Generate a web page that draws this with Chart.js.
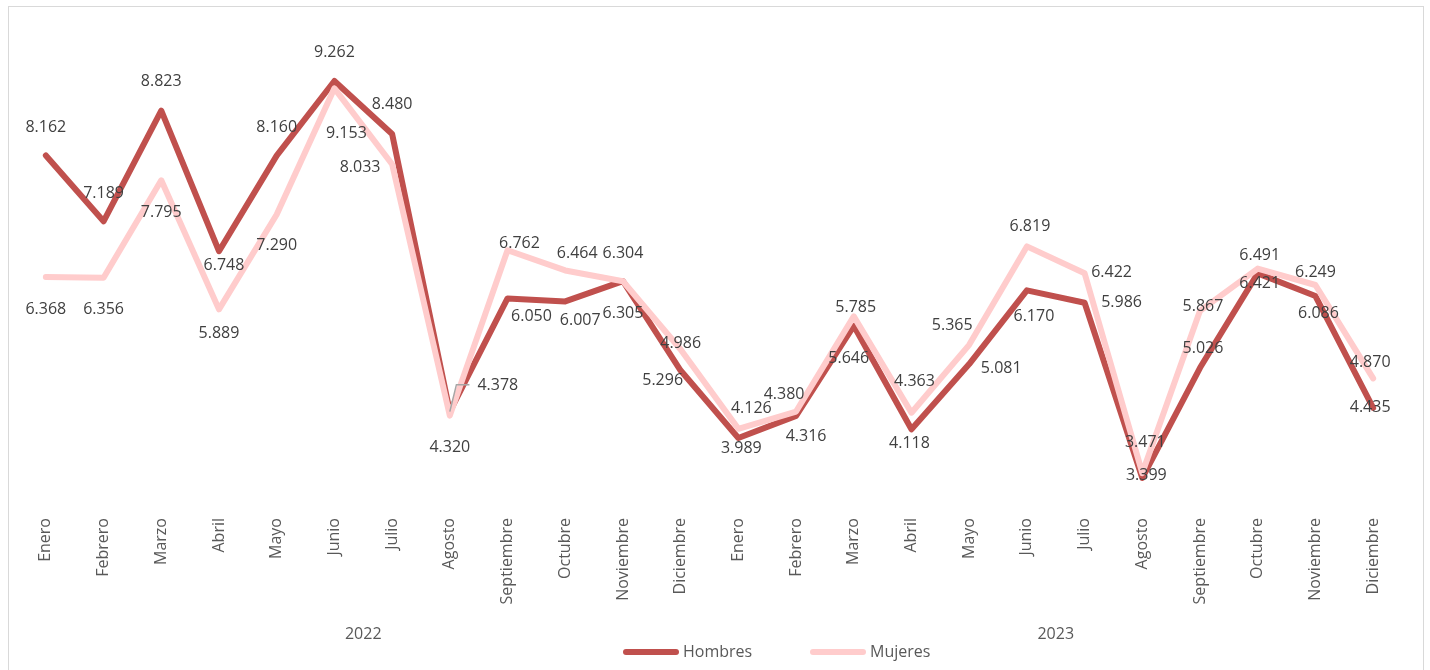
<!DOCTYPE html>
<html>
<head>
<meta charset="utf-8">
<script src="https://cdn.jsdelivr.net/npm/chart.js@4.4.1/dist/chart.umd.min.js"></script>
<style>
  html, body { margin: 0; padding: 0; background: #fff; }
  #wrap { width: 1430px; height: 670px; }
</style>
</head>
<body>
<div id="wrap"><canvas id="grafico" width="1430" height="670"></canvas></div>
<script>
// datos
var meses = ['Enero', 'Febrero', 'Marzo', 'Abril', 'Mayo', 'Junio', 'Julio', 'Agosto',
             'Septiembre', 'Octubre', 'Noviembre', 'Diciembre'];
var anios = ['2022', '2023'];
var hombres = [8.162, 7.189, 8.823, 6.748, 8.160, 9.262, 8.480, 4.378, 6.050, 6.007, 6.305, 4.986,
               3.989, 4.316, 5.646, 4.118, 5.081, 6.170, 5.986, 3.399, 5.026, 6.421, 6.086, 4.435];
var mujeres = [6.368, 6.356, 7.795, 5.889, 7.290, 9.153, 8.033, 4.320, 6.762, 6.464, 6.304, 5.296,
               4.126, 4.380, 5.785, 4.363, 5.365, 6.819, 6.422, 3.471, 5.867, 6.491, 6.249, 4.870];

var etiquetas = meses.concat(meses);

// desplazamiento de las etiquetas de datos respecto al punto
var despH = [[0,-28],[0,-28],[0,-29],[5,14],[0,-28],[0,-29],[0,-29],[48,-26],[24,18],[15,19],[0,32],[0,-27],
             [3,10],[10,21],[-5,33],[-2,14],[32,4],[7,26],[37,0],[4,-3],[3,-19],[2,10],[3,17],[-3,0]];
var despM = [[0,32],[0,32],[0,32],[0,24],[0,31],[12,45],[-32,3],[0,32],[12,-7],[12,-17],[0,-28],[-18,31],
             [13,-20],[-12,-17],[2,-9],[3,-31],[-17,-19],[3,-20],[27,-1],[3,-31],[3,-4],[2,-13],[0,-13],[-3,-16]];
var guiaH = [7]; // etiqueta con linea guia

var fuente = '"Open Sans", sans-serif';

function fmt(v) { return v.toFixed(3); }

var extras = {
  id: 'extras',
  beforeDraw: function (chart) {
    var c = chart.ctx;
    c.save();
    c.fillStyle = '#ffffff';
    c.fillRect(0, 0, chart.width, chart.height);
    c.strokeStyle = '#d9d9d9';
    c.lineWidth = 1;
    c.strokeRect(8.5, 6.5, 1415, 700);
    c.restore();
  },
  afterDatasetsDraw: function (chart) {
    var c = chart.ctx;
    c.save();
    c.font = '16px ' + fuente;
    c.fillStyle = '#404040';
    c.textAlign = 'center';
    c.textBaseline = 'middle';
    [[0, despH, hombres], [1, despM, mujeres]].forEach(function (s) {
      var meta = chart.getDatasetMeta(s[0]);
      meta.data.forEach(function (p, i) {
        var lx = p.x + s[1][i][0], ly = p.y + s[1][i][1];
        var txt = fmt(s[2][i]);
        if (s[0] === 0 && guiaH.indexOf(i) >= 0) {
          var w = c.measureText(txt).width;
          var x1 = lx - w / 2 - 8;
          c.strokeStyle = '#a6a6a6';
          c.lineWidth = 1.5;
          c.beginPath();
          c.moveTo(x1, ly - 1);
          c.lineTo(x1 - 13, ly - 1);
          c.lineTo(p.x, p.y);
          c.stroke();
        }
        c.fillText(txt, lx, ly);
      });
    });

    // años
    var xs = chart.scales.x;
    c.fillStyle = '#595959';
    anios.forEach(function (a, k) {
      var i0 = k * 12 + 5, i1 = k * 12 + 6;
      var x = (xs.getPixelForValue(i0) + xs.getPixelForValue(i1)) / 2;
      c.fillText(a, x, 634);
    });

    // leyenda
    var items = [[623, 0], [810, 1]];
    items.forEach(function (it) {
      var ds = chart.data.datasets[it[1]];
      c.strokeStyle = ds.borderColor;
      c.lineWidth = 6;
      c.lineCap = 'round';
      c.beginPath();
      c.moveTo(it[0] + 3, 652);
      c.lineTo(it[0] + 53, 652);
      c.stroke();
      c.fillStyle = '#595959';
      c.textAlign = 'left';
      c.fillText(ds.label, it[0] + 60, 652);
    });
    c.restore();
  }
};

new Chart(document.getElementById('grafico'), {
  type: 'line',
  data: {
    labels: etiquetas,
    datasets: [{
      label: 'Hombres',
      data: hombres,
      borderColor: '#c0504d',
      backgroundColor: '#c0504d',
      borderWidth: 6,
      pointRadius: 0,
      borderJoinStyle: 'round',
      borderCapStyle: 'round',
      tension: 0,
      order: 2
    }, {
      label: 'Mujeres',
      data: mujeres,
      borderColor: '#ffcccc',
      backgroundColor: '#ffcccc',
      borderWidth: 6,
      pointRadius: 0,
      borderJoinStyle: 'round',
      borderCapStyle: 'round',
      tension: 0,
      order: 1
    }]
  },
  options: {
    responsive: false,
    animation: false,
    layout: { padding: { left: 17, right: 28, top: 31, bottom: 0 } },
    plugins: {
      legend: { display: false },
      tooltip: { enabled: false },
      title: { display: false }
    },
    scales: {
      x: {
        offset: true,
        grid: { display: false },
        border: { display: false },
        ticks: {
          autoSkip: false,
          minRotation: 90,
          maxRotation: 90,
          padding: 5,
          color: '#595959',
          font: { family: fuente, size: 16 }
        },
        afterFit: function (s) { s.height = 165; }
      },
      y: {
        display: false,
        min: 3,
        max: 10
      }
    }
  },
  plugins: [extras]
});
</script>
</body>
</html>
